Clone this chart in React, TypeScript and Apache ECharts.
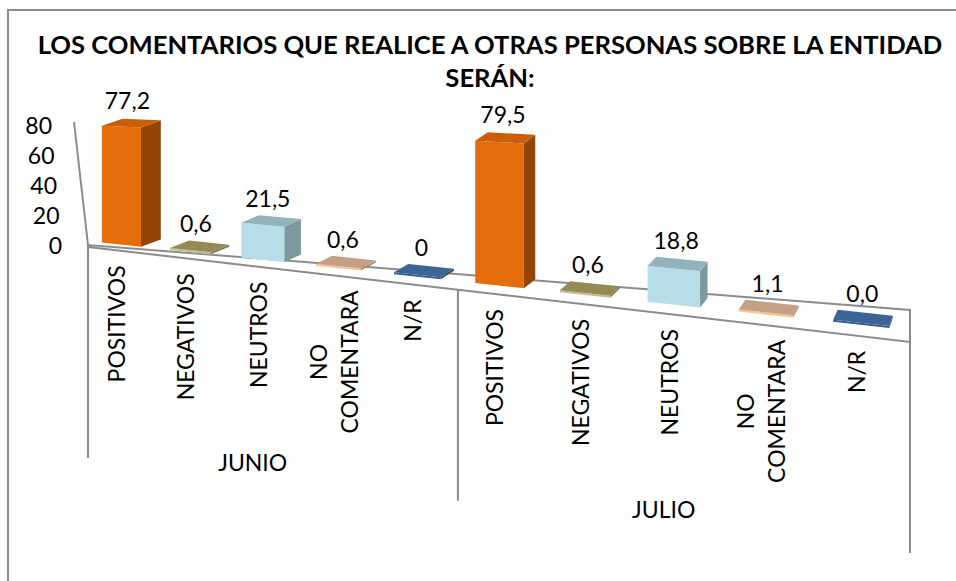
import React, { useEffect, useRef } from "react";
import * as echarts from "echarts";

// ---------- data ----------
const TITLE = "LOS COMENTARIOS QUE REALICE A OTRAS PERSONAS SOBRE LA ENTIDAD\nSERÁN:";
const months = ["JUNIO", "JULIO"];
const categories = ["POSITIVOS", "NEGATIVOS", "NEUTROS", "NO\nCOMENTARA", "N/R"];
const junio = [77.2, 0.6, 21.5, 0.6, 0];
const julio = [79.5, 0.6, 18.8, 1.1, 0.0];
const junioLabels = ["77,2", "0,6", "21,5", "0,6", "0"];
const julioLabels = ["79,5", "0,6", "18,8", "1,1", "0,0"];
const yTicks = [0, 20, 40, 60, 80];

// ---------- styles ----------
const FRONT = ["#E46C0A", "#C4BD97", "#B7DEE8", "#FAC090", "#376092"];
const TOP = ["#CB5F09", "#948A54", "#93B3BC", "#C4A184", "#3C6595"];
const SIDE = ["#934507", "#7F7750", "#7D99A0", "#A98B72", "#26436A"];
const GRID = "#8C8C8C";
const FONT = 'Lato, "Open Sans", sans-serif';
const FS = 23;

// perspective parameters
const A = 0.8; // horizontal warp
const K = 0.37; // vertical scale growth
const SF = 0.1155; // front floor edge slope
const SB = 0.079; // back floor edge slope
const BW = 0.58; // bar width in slot units

const monthValues = [junio, julio];
const monthLabels = [junioLabels, julioLabels];
const n = categories.length;
const barItems: { cat: number; label: string; value: number[] }[] = [];
months.forEach((_, m) => {
  categories.forEach((_, c) => {
    barItems.push({ cat: c, label: monthLabels[m][c], value: [m * n + c + 0.5, monthValues[m][c]] });
  });
});

let ctx: CanvasRenderingContext2D | null = null;
function measure(txt: string) {
  if (!ctx) ctx = document.createElement("canvas").getContext("2d");
  if (!ctx) return txt.length * FS * 0.55;
  ctx.font = `${FS}px ${FONT}`;
  return Math.max(...txt.split("\n").map((l) => ctx!.measureText(l).width));
}

function makeGeo(api: any) {
  const [x0, y0] = api.coord([0, 0]);
  const [x1] = api.coord([months.length * n, 0]);
  const W = x1 - x0;
  const warpT = (px: number) => (px - x0) / W;
  const warpX = (t: number) => x0 + W * (A * t + (1 - A) * t * t);
  const front = (X: number) => y0 + 2 + SF * (X - x0);
  const back = (X: number) => y0 + SB * (X - x0);
  const gap = (X: number) => 6 + 0.007 * (X - x0);
  const dxAt = (X: number) => Math.max(2, 21 - 0.022 * (X - x0));
  const dyAt = (X: number) => 7 + 0.004 * (X - x0);
  const xAtU = (u: number) => warpX(warpT(api.coord([u, 0])[0]));
  const point = (u: number, v: number, d: number, top: boolean) => {
    const [px, py] = api.coord([u, v]);
    const t = warpT(px);
    const X = warpX(t);
    let h = (y0 - py) * (1 + K * t);
    if (top) h = Math.max(h, 2);
    const base = front(X) - gap(X);
    return [X + d * dxAt(X), base - h - d * dyAt(X)];
  };
  return { x0, y0, front, back, point, xAtU, dxAt };
}

export default function App() {
  const ref = useRef<HTMLDivElement>(null);
  useEffect(() => {
    if (!ref.current) return;
    const chart = echarts.init(ref.current, null, { renderer: "svg" });
    const rich: any = {};
    yTicks.forEach((v) => {
      rich["p" + v] = { padding: [0, (10 * v) / 80, 0, 0], fontSize: FS, fontFamily: FONT, color: "#000" };
    });
    chart.setOption({
      animation: false,
      backgroundColor: "#fff",
      title: {
        text: TITLE,
        left: 485,
        top: 22,
        textAlign: "center",
        textStyle: { fontSize: 25.6, fontWeight: "bold", fontFamily: FONT, lineHeight: 33, color: "#000" },
      },
      graphic: [
        {
          type: "rect",
          shape: { x: 8, y: 10, width: 1000, height: 1000 },
          style: { fill: "none", stroke: GRID, lineWidth: 2 },
          silent: true,
        },
      ],
      grid: { left: 88, width: 822, top: 125, height: 120 },
      xAxis: { type: "value", min: 0, max: months.length * n, show: false },
      yAxis: {
        type: "value",
        min: 0,
        max: 80,
        interval: 20,
        axisLine: { show: false },
        axisTick: { show: false },
        splitLine: { show: false },
        axisLabel: {
          margin: 26,
          fontSize: FS,
          fontFamily: FONT,
          color: "#000",
          formatter: (v: number) => `{p${v}|${v}}`,
          rich,
        },
      },
      series: [
        {
          type: "custom",
          name: "frame",
          silent: true,
          data: [[0, 0]],
          renderItem: (params: any, api: any) => {
            const g = makeGeo(api);
            const L = g.xAtU(0);
            const R = g.xAtU(months.length * n);
            const yTop = api.coord([0, yTicks[yTicks.length - 1]])[1];
            const children: any[] = [
              {
                type: "polygon",
                shape: { points: [[L, g.front(L)], [R, g.front(R)], [R, g.back(R)], [L, g.back(L)]] },
                style: { fill: "#fff", stroke: GRID, lineWidth: 2 },
              },
              { type: "line", shape: { x1: L, y1: g.y0, x2: L - 14, y2: yTop - 3 }, style: { stroke: GRID, lineWidth: 2 } },
            ];
            for (let m = 0; m <= months.length; m++) {
              const X = g.xAtU(m * n);
              children.push({
                type: "line",
                shape: { x1: X, y1: g.front(X), x2: X, y2: g.front(X) + 211 },
                style: { stroke: GRID, lineWidth: 2 },
              });
            }
            months.forEach((mn, m) => {
              const X = g.xAtU(m * n + n / 2) - 10;
              children.push({
                type: "text",
                x: X,
                y: g.front(X) + 196,
                style: { text: mn, align: "center", verticalAlign: "middle", fontSize: FS, fontFamily: FONT, fill: "#000" },
              });
            });
            return { type: "group", children };
          },
        },
        {
          type: "custom",
          name: "bars",
          silent: true,
          data: barItems.map((b) => b.value),
          renderItem: (params: any, api: any) => {
            const g = makeGeo(api);
            const it = barItems[params.dataIndex];
            const c = api.value(0);
            const v = api.value(1);
            const uL = c - BW / 2;
            const uR = c + BW / 2;
            const fl = g.point(uL, 0, 0, false);
            const fr = g.point(uR, 0, 0, false);
            const frT = g.point(uR, v, 0, true);
            const flT = g.point(uL, v, 0, true);
            const br = g.point(uR, 0, 1, false);
            const brT = g.point(uR, v, 1, true);
            const blT = g.point(uL, v, 1, true);
            const Xc = g.xAtU(c);
            const lw = measure(categories[it.cat]);
            const catX = Xc - 5;
            const catTop = g.front(catX) + 15;
            return {
              type: "group",
              children: [
                { type: "polygon", shape: { points: [fr, br, brT, frT] }, style: { fill: SIDE[it.cat] } },
                { type: "polygon", shape: { points: [fl, fr, frT, flT] }, style: { fill: FRONT[it.cat] } },
                { type: "polygon", shape: { points: [flT, frT, brT, blT] }, style: { fill: TOP[it.cat] } },
                {
                  type: "text",
                  x: Xc + 0.3 * g.dxAt(Xc),
                  y: (blT[1] + brT[1]) / 2 - 8,
                  style: { text: it.label, align: "center", verticalAlign: "bottom", fontSize: FS, fontFamily: FONT, fill: "#000" },
                },
                {
                  type: "text",
                  x: catX,
                  y: catTop + lw / 2,
                  rotation: Math.PI / 2,
                  style: {
                    text: categories[it.cat],
                    align: "center",
                    verticalAlign: "middle",
                    lineHeight: 31,
                    fontSize: FS,
                    fontFamily: FONT,
                    fill: "#000",
                  },
                },
              ],
            };
          },
        },
      ],
    });
    return () => chart.dispose();
  }, []);
  return <div ref={ref} style={{ position: "fixed", left: 0, top: 0, width: 956, height: 581 }} />;
}
